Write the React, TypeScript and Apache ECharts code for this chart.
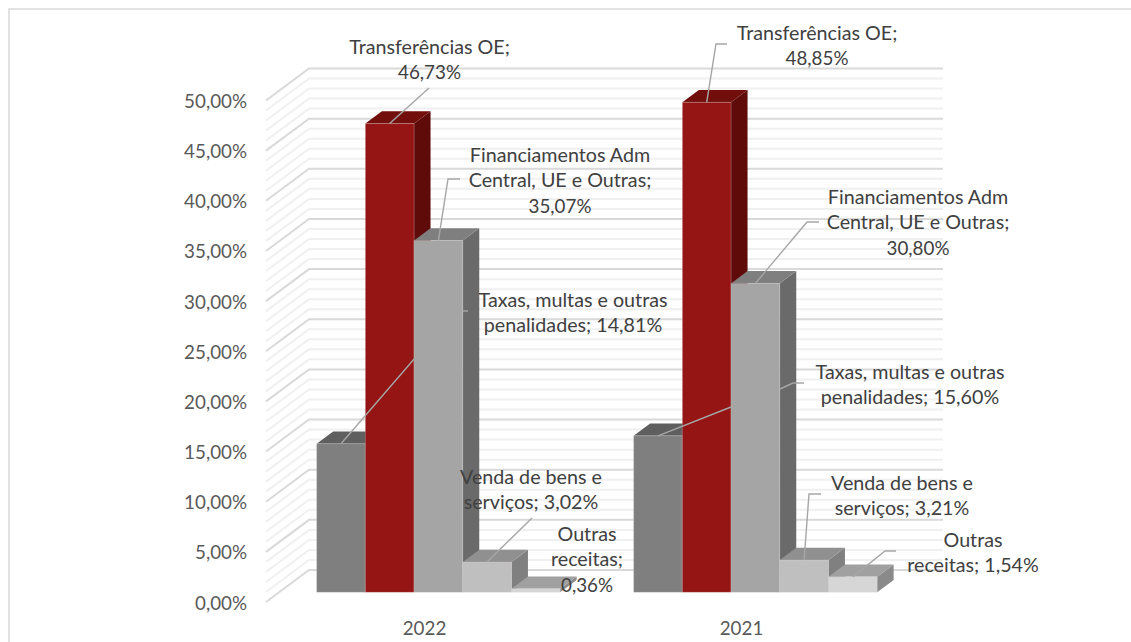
import React, { useEffect, useRef } from "react";
import * as echarts from "echarts";

const years = ["2022", "2021"];
const seriesNames = ["Taxas, multas e outras penalidades", "Transferências OE", "Financiamentos Adm Central, UE e Outras", "Venda de bens e serviços", "Outras receitas"];
const taxas = [14.81, 15.6];
const transferencias = [46.73, 48.85];
const financiamentos = [35.07, 30.8];
const venda = [3.02, 3.21];
const outras = [0.36, 1.54];
const allValues = [taxas, transferencias, financiamentos, venda, outras];
const gridTicks = [
  1, 2, 3, 4, 6, 7, 8, 9, 11, 12, 13, 14, 16, 17, 18, 19, 21, 22, 23, 24, 26, 27, 28, 29, 31, 32, 33, 34, 36, 37, 38, 39, 41, 42, 43, 44, 46, 47, 48, 49,
  0, 5, 10, 15, 20, 25, 30, 35, 40, 45, 50,
];

const FONT = "Lato";
const FS_TEXT = 19.7;
const FS_NUM = 18.8;
const TEXT = "#404040";
const AXIS_TEXT = "#595959";
const palette = [
  { front: "#7f7f7f", top: "#5f5f5f", side: "#5a5a5a" },
  { front: "#941513", top: "#720f0d", side: "#5e0b0a" },
  { front: "#a5a5a5", top: "#7f7f7f", side: "#6a6a6a" },
  { front: "#bfbfbf", top: "#909090", side: "#808080" },
  { front: "#d6d6d6", top: "#a0a0a0", side: "#8a8a8a" },
];
const WALL = { dx: 43, dy: 32 };
const BAR = { w: 48.7, offX: 13.9, offY: 9.7, dx: 16.5, dy: 12.3 };

// label layout: series, year, text lines, whether the value shares the last line, centre x, first-line y, leader points
type Lay = { s: number; c: number; lines: string[]; inline: boolean; cx: number; y: number; tail: number[][]; extra?: number[][] };
const layouts: Lay[] = [
  { s: 1, c: 0, lines: ["Transferências OE;"], inline: false, cx: 429.5, y: 46.3, tail: [[429, 88]] },
  { s: 2, c: 0, lines: ["Financiamentos Adm", "Central, UE e Outras;"], inline: false, cx: 560, y: 154.3, tail: [[448, 179], [460, 179]] },
  { s: 0, c: 0, lines: ["Taxas, multas e outras", "penalidades;"], inline: true, cx: 573, y: 299.3, tail: [[415, 358]], extra: [[463, 311], [468, 311]] },
  { s: 3, c: 0, lines: ["Venda de bens e", "serviços;"], inline: true, cx: 531, y: 476.3, tail: [[532, 518]] },
  { s: 4, c: 0, lines: ["Outras", "receitas;"], inline: false, cx: 587, y: 533.3, tail: [] },
  { s: 1, c: 1, lines: ["Transferências OE;"], inline: false, cx: 817, y: 32.3, tail: [[716, 44], [727, 44]] },
  { s: 2, c: 1, lines: ["Financiamentos Adm", "Central, UE e Outras;"], inline: false, cx: 918, y: 196.3, tail: [[807, 222], [819, 222]] },
  { s: 0, c: 1, lines: ["Taxas, multas e outras", "penalidades;"], inline: true, cx: 910, y: 371.3, tail: [[731, 407]], extra: [[780, 389], [793, 383], [804, 383]] },
  { s: 3, c: 1, lines: ["Venda de bens e", "serviços;"], inline: true, cx: 902, y: 482.3, tail: [[809, 494], [821, 494]] },
  { s: 4, c: 1, lines: ["Outras", "receitas;"], inline: true, cx: 973, y: 539.3, tail: [[885, 551], [896, 551]] },
];

const pct = (v: number) => v.toFixed(2).replace(".", ",") + "%";

function barGeom(api: any, s: number, c: number, v: number) {
  const [cx, y0] = api.coord([c, 0]);
  const [, yv] = api.coord([c, v]);
  const x = cx + BAR.offX + (s - 2.5) * BAR.w;
  return { x, top: yv - BAR.offY, bottom: y0 - BAR.offY };
}

export default function App() {
  const ref = useRef<HTMLDivElement>(null);
  useEffect(() => {
    document.body.style.margin = "0";
    const chart = echarts.init(ref.current!, null, { renderer: "svg" });
    const wallSeries = {
      type: "custom",
      name: "wall",
      silent: true,
      clip: false,
      data: gridTicks.map((t) => [0, t]),
      renderItem: (params: any, api: any) => {
        const v = api.value(1);
        const y = api.coord([0, v])[1];
        const x0 = params.coordSys.x;
        const x1 = x0 + params.coordSys.width;
        const major = v % 5 === 0;
        return {
          type: "polyline",
          shape: { points: [[x0, y], [x0 + WALL.dx, y - WALL.dy], [x1 + WALL.dx, y - WALL.dy]] },
          style: { fill: "none", stroke: major ? "#d9d9d9" : "#f0f0f0", lineWidth: 2 },
        };
      },
    };
    const barSeries = allValues.map((vals, s) => ({
      type: "custom",
      name: seriesNames[s],
      silent: true,
      clip: false,
      data: vals.map((v, c) => [c, v]),
      renderItem: (_p: any, api: any) => {
        const c = api.value(0);
        const v = api.value(1);
        const g = barGeom(api, s, c, v);
        const col = palette[s];
        const r = g.x + BAR.w;
        return {
          type: "group",
          children: [
            { type: "polygon", shape: { points: [[r, g.top], [r + BAR.dx, g.top - BAR.dy], [r + BAR.dx, g.bottom - BAR.dy], [r, g.bottom]] }, style: { fill: col.side } },
            { type: "polygon", shape: { points: [[g.x, g.top], [g.x + BAR.dx, g.top - BAR.dy], [r + BAR.dx, g.top - BAR.dy], [r, g.top]] }, style: { fill: col.top } },
            { type: "rect", shape: { x: g.x, y: g.top, width: BAR.w, height: g.bottom - g.top }, style: { fill: col.front, stroke: "rgba(225,215,215,0.35)", lineWidth: 0.8 } },
          ],
        };
      },
    }));
    const labelSeries = {
      type: "custom",
      name: "labels",
      silent: true,
      clip: false,
      data: layouts.map((_, i) => [0, i]),
      renderItem: (_p: any, api: any) => {
        const l = layouts[api.value(1)];
        const v = allValues[l.s][l.c];
        const g = barGeom(api, l.s, l.c, v);
        const start = [g.x + BAR.w / 2, g.top];
        const value = pct(v);
        const rows = l.inline ? [...l.lines.slice(0, -1), l.lines[l.lines.length - 1] + " " + value] : [...l.lines, value];
        const children: any[] = [];
        const lineStyle = { fill: "none", stroke: "#a6a6a6", lineWidth: 1.4 };
        if (l.tail.length) children.push({ type: "polyline", shape: { points: [start, ...l.tail] }, style: lineStyle });
        if (l.extra) children.push({ type: "polyline", shape: { points: l.extra }, style: lineStyle });
        rows.forEach((t, i) => {
          const size = t === value ? FS_NUM : FS_TEXT;
          children.push({ type: "text", style: { text: t, x: l.cx, y: l.y + i * 25.5, align: "center", verticalAlign: "middle", fill: TEXT, font: `${size}px ${FONT}` } });
        });
        return { type: "group", children };
      },
    };
    chart.setOption({
      animation: false,
      backgroundColor: "#ffffff",
      tooltip: { show: false },
      legend: { show: false },
      graphic: [{ type: "polyline", silent: true, shape: { points: [[9, 642], [9, 9], [1131, 9]] }, style: { fill: "none", stroke: "#d9d9d9", lineWidth: 1.5 } }],
      grid: { left: 266, top: 100.5, right: 231, bottom: 40, containLabel: false },
      xAxis: {
        type: "category",
        data: years,
        axisLine: { show: false },
        axisTick: { show: false },
        splitLine: { show: false },
        axisLabel: { color: AXIS_TEXT, fontFamily: FONT, fontSize: FS_NUM, margin: 16 },
      },
      yAxis: {
        type: "value",
        min: 0,
        max: 50,
        interval: 5,
        axisLine: { show: false },
        axisTick: { show: false },
        splitLine: { show: false },
        axisLabel: { color: AXIS_TEXT, fontFamily: FONT, fontSize: FS_NUM, margin: 19, formatter: (v: number) => pct(v) },
      },
      series: [wallSeries, ...barSeries, labelSeries],
    });
    return () => chart.dispose();
  }, []);
  return <div ref={ref} style={{ width: 1131, height: 642 }} />;
}
